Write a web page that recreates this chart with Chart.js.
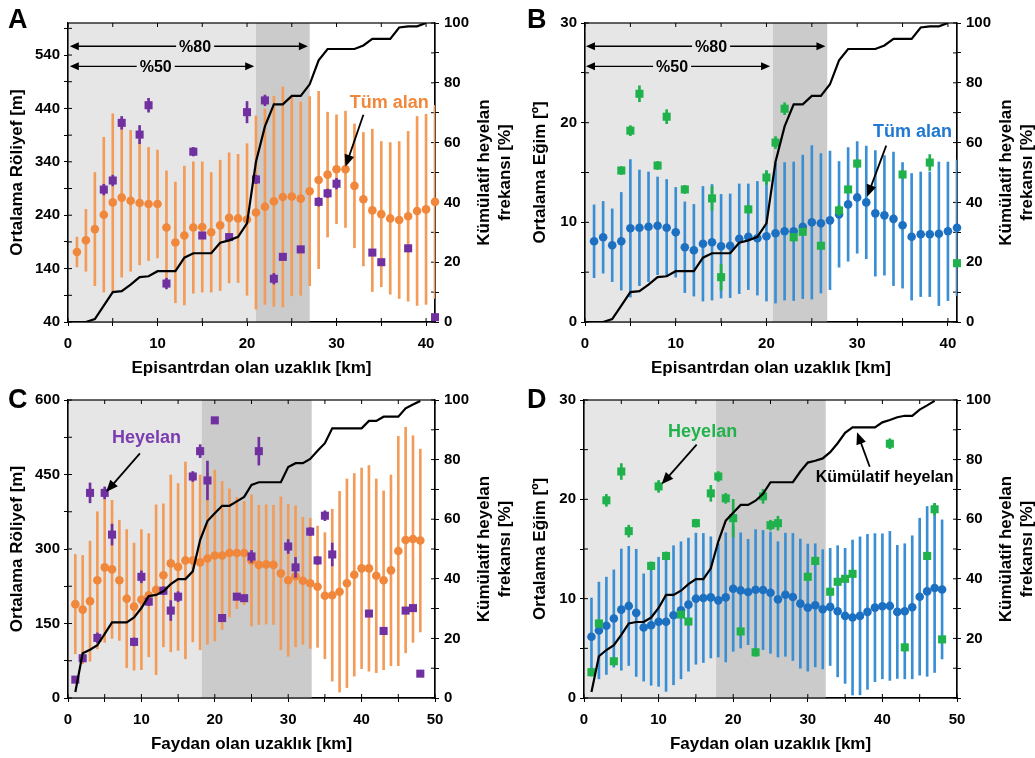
<!DOCTYPE html>
<html>
<head>
<meta charset="utf-8">
<title>Heyelan dağılımı</title>
<script src="https://cdn.jsdelivr.net/npm/chart.js@4.4.1/dist/chart.umd.min.js"></script>
<style>
  html, body { margin: 0; padding: 0; background: #fff; }
  #page { position: relative; width: 1035px; height: 758px; overflow: hidden; }
  canvas { position: absolute; }
</style>
</head>
<body>
<div id="page">
  <canvas id="panelA" width="517" height="379" style="left:0;top:0"></canvas>
  <canvas id="panelB" width="518" height="379" style="left:517px;top:0"></canvas>
  <canvas id="panelC" width="517" height="379" style="left:0;top:379px"></canvas>
  <canvas id="panelD" width="518" height="379" style="left:517px;top:379px"></canvas>
</div>
<script>
// ---- distance from epicentre (panels A, B) ----
const kmEpi = [1,2,3,4,5,6,7,8,9,10,11,12,13,14,15,16,17,18,19,20,21,22,23,24,25,26,27,28,29,30,31,32,33,34,35,36,37,38,39,40,41];
const reliefEpiMean = [171,193,214,241,264,273,267,263,261,261,217,189,202,217,218,208,221,235,234,232,245,256,266,274,275,271,285,306,316,326,326,295,270,249,242,234,231,238,248,251,265];
const reliefEpiSd = [28,58,106,145,166,149,132,116,106,101,106,113,130,123,122,112,122,122,120,142,181,183,197,206,186,181,177,166,117,102,109,116,125,152,136,142,147,159,177,178,181];
const slopeEpiMean = [8.1,8.5,7.7,8.1,9.4,9.45,9.55,9.65,9.45,9.0,7.5,7.2,7.85,8.0,7.6,7.65,8.35,8.55,8.4,8.6,8.9,9.1,9.1,9.55,10.0,9.9,10.2,10.8,11.8,12.5,12.0,10.9,10.7,10.35,9.7,8.55,8.8,8.8,8.85,9.1,9.45];
const slopeEpiSd = [3.65,3.6,3.65,4.9,6.9,5.8,5.5,4.9,4.85,4.5,4.55,4.6,5.75,5.8,5.2,5.2,5.5,5.3,5.7,6.5,7.0,6.9,6.95,7.2,7.7,7.0,6.95,5.3,5.7,5.6,5.65,6.3,6.0,6.7,6.3,6.35,6.25,6.25,7.2,6.95,6.8];

const slideReliefEpiKm = [4,5,6,8,9,11,14,15,18,20,21,22,23,24,26,28,29,30,34,35,38,41];
const slideReliefEpi = [288,305,413,391,446,112,359,202,199,433,307,455,121,162,176,265,281,299,170,152,178,49];
const slideReliefEpiErr = [10,10,12,17,13,10,8,6,6,20,8,10,10,5,6,8,8,10,5,5,6,3];

const slideSlopeEpiKm = [4,5,6,8,9,11,14,15,18,20,21,22,23,24,26,28,29,30,35,38,41];
const slideSlopeEpi = [15.2,19.2,22.9,15.7,20.6,13.3,12.4,4.5,11.3,14.5,18.0,21.4,8.5,9.05,7.65,11.2,13.3,15.9,14.8,16.0,5.9];
const slideSlopeEpiErr = [0.4,0.5,0.8,0.4,0.7,0.4,1.2,1.3,0.4,0.7,0.6,0.6,0.4,0.3,0.3,0.5,0.3,0.4,0.4,0.8,0.3];

const cumEpiKm = [0,1,2,3,4,5,6,7,8,9,10,11,12,13,14,15,16,17,18,19,20,21,22,23,24,25,26,27,28,29,30,31,32,33,34,35,36,37,38,39,40];
const cumEpiPct = [0,0,0,1,5.5,10,10.3,12.5,15,15.3,17,17,17,21.5,23,23,23,26.5,27.3,28.5,33,53.6,65.4,72.8,72.8,75.6,75.6,79.5,87.5,91.3,91.3,91.3,91.3,92.5,94.7,94.7,94.7,98.5,98.9,98.9,100];

// ---- distance from fault (panels C, D) ----
const kmFault = [1,2,3,4,5,6,7,8,9,10,11,12,13,14,15,16,17,18,19,20,21,22,23,24,25,26,27,28,29,30,31,32,33,34,35,36,37,38,39,40,41,42,43,44,45,46,47,48];
const reliefFaultMean = [189,178,195,237,263,259,237,200,184,198,207,218,247,271,264,277,277,273,281,287,287,292,292,292,277,268,269,268,251,237,245,236,231,224,206,207,214,231,248,261,261,246,237,257,296,318,320,317];
const reliefFaultSd = [100,109,121,138,151,139,121,139,128,141,124,171,144,178,168,198,164,176,173,172,149,129,112,104,132,120,120,120,154,153,142,128,131,122,127,173,202,210,204,202,207,195,180,192,231,227,208,184];
const slopeFaultMean = [6.17,6.8,7.27,8.0,8.9,9.27,8.57,7.1,7.33,7.67,7.67,8.33,8.83,9.4,10.0,10.07,10.13,9.83,10.13,11.0,10.83,10.67,10.9,10.87,10.6,9.93,10.4,10.17,9.5,9.1,9.33,8.93,9.17,8.73,8.27,8.1,8.27,8.67,9.1,9.23,9.27,8.67,8.73,9.13,10.2,10.73,11.07,10.93];
const slopeFaultSd = [3.9,4.87,4.9,4.9,6.1,6.0,6.4,5.4,6.05,6.5,7.0,7.0,6.9,6.7,6.6,6.5,6.1,5.7,6.5,6.3,5.8,5.3,6.05,6.0,6.1,5.8,6.2,6.4,6.5,6.4,6.2,6.0,5.9,6.6,6.8,7.8,7.95,7.8,7.45,7.3,7.5,6.7,6.8,7.2,7.9,8.55,8.5,7.0];

const slideFaultKm = [1,2,3,4,5,6,9,10,11,13,14,15,17,18,19,20,21,23,24,25,26,30,31,33,34,35,36,41,43,46,47,48];
const slideReliefFault = [37,80,413,121,413,329,113,244,194,216,176,204,446,497,438,559,161,204,201,285,497,305,263,335,277,367,289,170,135,176,181,49];
const slideReliefFaultErr = [6,6,20,10,12,21,8,12,8,8,20,10,10,13,39,6,6,5,5,12,28,14,20,8,8,10,23,5,5,5,5,5];
const slideSlopeFault = [2.6,7.5,19.9,3.7,22.8,16.8,13.3,21.3,14.3,8.4,7.7,17.6,20.6,22.3,20.1,18.1,6.7,4.6,20.3,17.4,17.6,12.2,13.8,10.7,11.7,12.0,12.5,25.6,5.1,14.3,19.0,5.9];
const slideSlopeFaultErr = [0.4,0.4,0.6,0.4,0.8,0.6,0.4,0.6,0.4,0.3,0.3,0.4,0.8,0.5,0.5,1.9,0.4,0.4,0.7,0.5,0.7,0.4,0.4,0.4,0.3,0.3,0.4,0.5,0.4,0.4,0.6,0.3];

const cumFaultKm = [1,2,3,4,5,6,7,8,9,10,11,12,13,14,15,16,17,18,19,20,21,22,23,24,25,26,27,28,29,30,31,32,33,34,35,36,37,38,39,40,41,42,43,44,45,46,47,48];
const cumFaultPct = [2,15,16.2,17.7,21.5,25.4,25.4,25.4,27,30.2,34.2,34.6,35.8,38.2,39.9,39.9,42.5,53,59.4,62,64.5,64.5,66,67.5,71.5,72.4,72.4,72.4,72.4,77.5,78.8,78.8,80.2,83,85.5,90.5,90.5,90.5,90.5,90.5,93,93,94.4,94.4,94.4,97.2,98.5,99.7];
const cumFaultKmD = [1,2,3,4,5,6,7,8,9,10,11,12,13,14,15,16,17,18,19,20,21,22,23,24,25,26,27,28,29,30,31,32,33,34,35,36,37,38,39,40,41,42,43,44,45,46,47];
const cumFaultPctD = [2,14,16.1,17.7,21.2,25,25.5,25.5,27,30.2,34.6,34.6,36,38.2,39.9,39.9,43.5,52.5,59.5,62.2,64.8,64.8,66.2,68.5,72.4,72.4,72.4,72.4,76,79,79.6,80.4,82.5,85.5,89,90.8,90.8,90.8,90.8,92.5,93.3,94.2,94.7,94.7,96.8,98.2,99.7];

// ---- tick labels ----
const xLabelsEpi = [0,10,20,30,40];
const xLabelsFault = [0,10,20,30,40,50];
const reliefEpiLabels = [40,140,240,340,440,540];
const reliefFaultLabels = [0,150,300,450,600];
const slopeLabels = [0,10,20,30];
const pctLabels = [0,20,40,60,80,100];
const pctLabelsD = [20,40,60,80,100];
const rightTitle = ['Kümülatif heyelan', 'frekansı [%]'];

// ---- styling ----
const FONT = "'Liberation Sans', Arial, Helvetica, sans-serif";
const LIGHT = '#e6e6e6', DARK = '#cbcbcb';
const ORANGE = '#f0873a', ORANGE_BAR = '#f39b58';
const BLUE = '#1c70c2', BLUE_BAR = '#3a8fd4';
const PURPLE = '#7030a0', GREEN = '#1fb14c';

function pts(xs, ys) { return xs.map((x, i) => ({x: x, y: ys[i]})); }
function bars(xs, ys, err) { return xs.map((x, i) => ({x: x, y: [ys[i] - err[i], ys[i] + err[i]]})); }
function every(min, max, step) {
  const out = [];
  for (let v = min; v <= max + 1e-9; v += step) out.push({value: Math.round(v * 100) / 100});
  return out;
}
function arrowHead(ctx, x, y, ang, len, half) {
  const bx = x - len * Math.cos(ang), by = y - len * Math.sin(ang);
  ctx.beginPath();
  ctx.moveTo(x, y);
  ctx.lineTo(bx + half * Math.sin(ang), by - half * Math.cos(ang));
  ctx.lineTo(bx - half * Math.sin(ang), by + half * Math.cos(ang));
  ctx.closePath();
  ctx.fill();
}

function makePanel(id, p) {
  const tickFont = {family: FONT, size: 15, weight: 'bold'};
  const titleFont = {family: FONT, size: 17, weight: 'bold'};
  const grid = {drawOnChartArea: false, offset: false, tickLength: 4, color: '#000', lineWidth: 1};
  const border = {display: true, color: '#000', width: 1.2};

  const deco = {
    id: 'deco' + p.letter,
    beforeDatasetsDraw(chart) {
      const {ctx, chartArea: a, scales} = chart;
      const x = scales.x;
      ctx.save();
      p.shades.forEach(s => {
        const x0 = x.getPixelForValue(s.from), x1 = x.getPixelForValue(s.to);
        ctx.fillStyle = s.color;
        ctx.fillRect(x0, a.top, x1 - x0, a.bottom - a.top);
      });
      ctx.strokeStyle = '#000';
      ctx.lineWidth = 1.2;
      ctx.strokeRect(a.left, a.top, a.right - a.left, a.bottom - a.top);
      // tick marks pointing into the plot
      ctx.lineWidth = 1;
      ctx.beginPath();
      x.ticks.forEach(t => {
        const px = x.getPixelForValue(t.value);
        ctx.moveTo(px, a.bottom); ctx.lineTo(px, a.bottom - 4);
        ctx.moveTo(px, a.top); ctx.lineTo(px, a.top + 4);
      });
      scales.y.ticks.forEach(t => {
        const py = scales.y.getPixelForValue(t.value);
        ctx.moveTo(a.left, py); ctx.lineTo(a.left + 4, py);
      });
      scales.y2.ticks.forEach(t => {
        const py = scales.y2.getPixelForValue(t.value);
        ctx.moveTo(a.right, py); ctx.lineTo(a.right - 4, py);
      });
      ctx.stroke();
      ctx.restore();
    },
    afterDatasetsDraw(chart) {
      const {ctx, chartArea: a, scales: {x, y2}} = chart;
      const X = v => x.getPixelForValue(v), Y = v => y2.getPixelForValue(v);
      ctx.save();
      ctx.fillStyle = '#000';
      ctx.strokeStyle = '#000';
      (p.spans || []).forEach(s => {
        const yy = Y(s.at), xa = X(s.from), xb = X(s.to);
        ctx.lineWidth = 1.4;
        ctx.beginPath(); ctx.moveTo(xa + 4, yy); ctx.lineTo(xb - 4, yy); ctx.stroke();
        ctx.fillStyle = '#000';
        arrowHead(ctx, xa, yy, Math.PI, 9, 4);
        arrowHead(ctx, xb, yy, 0, 9, 4);
        ctx.font = 'bold 16px ' + FONT;
        const w = ctx.measureText(s.text).width + 6;
        const cx = X(s.labelAt);
        ctx.fillStyle = LIGHT;
        ctx.fillRect(cx - w / 2, yy - 9, w, 18);
        ctx.fillStyle = '#000';
        ctx.textAlign = 'center'; ctx.textBaseline = 'middle';
        ctx.fillText(s.text, cx, yy + 1);
      });
      (p.arrows || []).forEach(ar => {
        const x0 = X(ar.from[0]), y0 = Y(ar.from[1]), x1 = X(ar.to[0]), y1 = Y(ar.to[1]);
        const ang = Math.atan2(y1 - y0, x1 - x0);
        ctx.lineWidth = 1.8;
        ctx.beginPath(); ctx.moveTo(x0, y0);
        ctx.lineTo(x1 - 6 * Math.cos(ang), y1 - 6 * Math.sin(ang)); ctx.stroke();
        ctx.fillStyle = '#000';
        arrowHead(ctx, x1, y1, ang, 12, 5);
      });
      (p.notes || []).forEach(n => {
        ctx.font = 'bold ' + n.size + 'px ' + FONT;
        ctx.fillStyle = n.color;
        ctx.textAlign = 'center'; ctx.textBaseline = 'middle';
        ctx.fillText(n.text, X(n.x), Y(n.y));
      });
      // right axis title, reading bottom to top
      ctx.save();
      ctx.translate(a.right + 49, (a.top + a.bottom) / 2);
      ctx.rotate(-Math.PI / 2);
      ctx.font = 'bold 17px ' + FONT;
      ctx.fillStyle = '#000';
      ctx.textAlign = 'center'; ctx.textBaseline = 'middle';
      ctx.fillText(rightTitle[0], 0, 0);
      ctx.fillText(rightTitle[1], 0, 21);
      ctx.restore();
      // panel letter
      ctx.font = 'bold 27px ' + FONT;
      ctx.fillStyle = '#000';
      ctx.textAlign = 'left'; ctx.textBaseline = 'alphabetic';
      ctx.fillText(p.letter, p.letterX, p.letterY);
      ctx.restore();
    }
  };

  new Chart(document.getElementById(id), {
    type: 'scatter',
    data: {
      datasets: [
        {type: 'line', data: pts(p.cumX, p.cumY), yAxisID: 'y2', borderColor: '#000', borderWidth: 2.2,
         pointRadius: 0, tension: 0, order: 0},
        {type: 'scatter', data: pts(p.slideX, p.slideY), pointStyle: 'rect', pointRadius: 5.7,
         backgroundColor: p.slideColor, borderWidth: 0, order: 1, clip: false},
        {type: 'bar', data: bars(p.slideX, p.slideY, p.slideErr), backgroundColor: p.slideColor,
         barThickness: 2, grouped: false, borderWidth: 0, order: 2},
        {type: 'scatter', data: pts(p.km, p.mean), pointStyle: 'circle', pointRadius: 4.3,
         backgroundColor: p.meanColor, borderWidth: 0, order: 3, clip: false},
        {type: 'bar', data: bars(p.km, p.mean, p.sd), backgroundColor: p.barColor,
         barThickness: 2, grouped: false, borderWidth: 0, order: 4}
      ]
    },
    options: {
      responsive: false,
      animation: false,
      events: [],
      layout: {padding: {top: p.box.top, left: 0, right: 0, bottom: 0}},
      plugins: {legend: {display: false}, tooltip: {enabled: false}},
      scales: {
        x: {
          type: 'linear', min: 0, max: p.xMax, offset: false,
          afterBuildTicks: s => { s.ticks = every(0, p.xMax, 5); },
          afterFit: s => { s.height = p.box.bottom; },
          ticks: {font: tickFont, color: '#000', autoSkip: false, maxRotation: 0, padding: 9,
                  callback: v => p.xLabels.includes(v) ? String(v) : ''},
          grid: grid, border: border,
          title: {display: true, text: p.xTitle, font: titleFont, color: '#000',
                  padding: {top: 0, bottom: p.box.xTitlePad}}
        },
        y: {
          type: 'linear', position: 'left', min: p.yMin, max: p.yMax, beginAtZero: false,
          afterBuildTicks: s => { s.ticks = every(p.yMin, p.yMax, p.yStep); },
          afterFit: s => { s.width = p.box.left; },
          ticks: {font: tickFont, color: '#000', autoSkip: false, padding: 4,
                  callback: v => p.yLabels.includes(v) ? String(v) : ''},
          grid: grid, border: border,
          title: {display: true, text: p.yTitle, font: titleFont, color: '#000',
                  padding: {top: p.box.yTitlePad, bottom: 0}}
        },
        y2: {
          type: 'linear', position: 'right', min: 0, max: 100, beginAtZero: false,
          afterBuildTicks: s => { s.ticks = every(0, 100, 10); },
          afterFit: s => { s.width = p.box.right; },
          ticks: {font: tickFont, color: '#000', autoSkip: false, padding: 5,
                  callback: v => p.y2Labels.includes(v) ? String(v) : ''},
          grid: grid, border: border
        }
      }
    },
    plugins: [deco]
  });
}

makePanel('panelA', {
  letter: 'A', letterX: 8, letterY: 28,
  box: {top: 23, left: 68, right: 82, bottom: 57, yTitlePad: 7, xTitlePad: 0},
  xMax: 41, xLabels: xLabelsEpi, xTitle: 'Episantrdan olan uzaklık [km]',
  yMin: 40, yMax: 600, yStep: 50, yLabels: reliefEpiLabels, yTitle: 'Ortalama Röliyef [m]',
  y2Labels: pctLabels,
  km: kmEpi, mean: reliefEpiMean, sd: reliefEpiSd, meanColor: ORANGE, barColor: ORANGE_BAR,
  slideX: slideReliefEpiKm, slideY: slideReliefEpi, slideErr: slideReliefEpiErr, slideColor: PURPLE,
  cumX: cumEpiKm, cumY: cumEpiPct,
  shades: [{from: 0, to: 21, color: LIGHT}, {from: 21, to: 27, color: DARK}],
  spans: [{text: '%80', from: 0.2, to: 26.8, at: 92.2, labelAt: 14.2},
          {text: '%50', from: 0.2, to: 20.8, at: 85.5, labelAt: 9.8}],
  notes: [{text: 'Tüm alan', x: 35.9, y: 73.3, color: ORANGE, size: 18}],
  arrows: [{from: [33, 69.3], to: [31, 51.9]}]
});

makePanel('panelB', {
  letter: 'B', letterX: 10, letterY: 28,
  box: {top: 23, left: 68, right: 78, bottom: 57, yTitlePad: 13, xTitlePad: 0},
  xMax: 41, xLabels: xLabelsEpi, xTitle: 'Episantrdan olan uzaklık [km]',
  yMin: 0, yMax: 30, yStep: 5, yLabels: slopeLabels, yTitle: 'Ortalama Eğim [º]',
  y2Labels: pctLabels,
  km: kmEpi, mean: slopeEpiMean, sd: slopeEpiSd, meanColor: BLUE, barColor: BLUE_BAR,
  slideX: slideSlopeEpiKm, slideY: slideSlopeEpi, slideErr: slideSlopeEpiErr, slideColor: GREEN,
  cumX: cumEpiKm, cumY: cumEpiPct,
  shades: [{from: 0, to: 20.7, color: LIGHT}, {from: 20.7, to: 26.7, color: DARK}],
  spans: [{text: '%80', from: 0.1, to: 26.5, at: 92.2, labelAt: 13.9},
          {text: '%50', from: 0.1, to: 20.4, at: 85.5, labelAt: 9.6}],
  notes: [{text: 'Tüm alan', x: 36.1, y: 63.5, color: '#1f78d1', size: 18}],
  arrows: [{from: [33.2, 59], to: [31.1, 41.9]}]
});

makePanel('panelC', {
  letter: 'C', letterX: 8, letterY: 29,
  box: {top: 21, left: 68, right: 82, bottom: 60, yTitlePad: 7, xTitlePad: 3},
  xMax: 50, xLabels: xLabelsFault, xTitle: 'Faydan olan uzaklık [km]',
  yMin: 0, yMax: 600, yStep: 75, yLabels: reliefFaultLabels, yTitle: 'Ortalama Röliyef [m]',
  y2Labels: pctLabels,
  km: kmFault, mean: reliefFaultMean, sd: reliefFaultSd, meanColor: ORANGE, barColor: ORANGE_BAR,
  slideX: slideFaultKm, slideY: slideReliefFault, slideErr: slideReliefFaultErr, slideColor: PURPLE,
  cumX: cumFaultKm, cumY: cumFaultPct,
  shades: [{from: 0, to: 18.2, color: LIGHT}, {from: 18.2, to: 33.2, color: DARK}],
  notes: [{text: 'Heyelan', x: 10.7, y: 87.2, color: '#7a3cb0', size: 18}],
  arrows: [{from: [9.8, 82.1], to: [5.2, 69.1]}]
});

makePanel('panelD', {
  letter: 'D', letterX: 10, letterY: 29,
  box: {top: 21, left: 67, right: 78, bottom: 60, yTitlePad: 13, xTitlePad: 3},
  xMax: 50, xLabels: xLabelsFault, xTitle: 'Faydan olan uzaklık [km]',
  yMin: 0, yMax: 30, yStep: 5, yLabels: slopeLabels, yTitle: 'Ortalama Eğim [º]',
  y2Labels: pctLabelsD,
  km: kmFault, mean: slopeFaultMean, sd: slopeFaultSd, meanColor: BLUE, barColor: BLUE_BAR,
  slideX: slideFaultKm, slideY: slideSlopeFault, slideErr: slideSlopeFaultErr, slideColor: GREEN,
  cumX: cumFaultKmD, cumY: cumFaultPctD,
  shades: [{from: 0, to: 17.7, color: LIGHT}, {from: 17.7, to: 32.4, color: DARK}],
  notes: [{text: 'Heyelan', x: 15.9, y: 89.4, color: '#22b24c', size: 18},
          {text: 'Kümülatif heyelan', x: 40.3, y: 73.9, color: '#000', size: 16}],
  arrows: [{from: [15.1, 85], to: [10.4, 71.7]}, {from: [38.3, 77.6], to: [36.6, 89.2]}]
});
</script>
</body>
</html>
